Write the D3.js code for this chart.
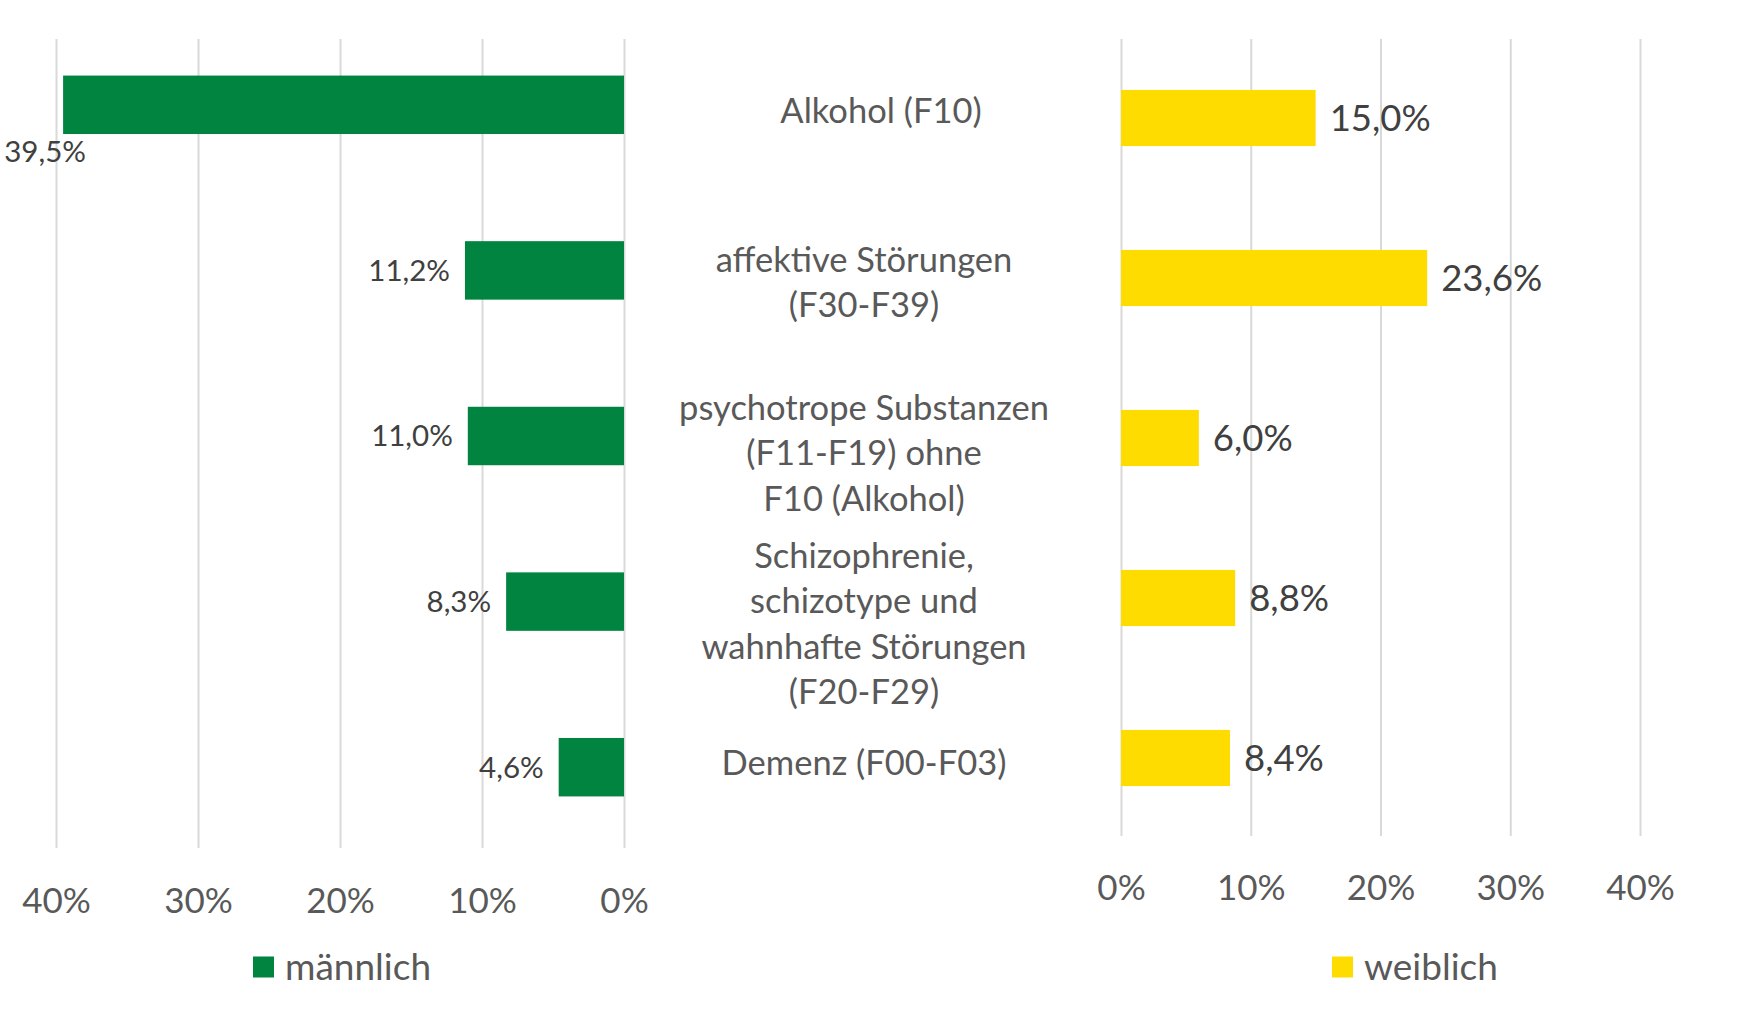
<!DOCTYPE html>
<html>
<head>
<meta charset="utf-8">
<script src="https://cdn.jsdelivr.net/npm/d3@7"></script>
<style>
    body { margin: 0; background: #fff; }
    svg text { font-family: Lato, "Open Sans", sans-serif; }
</style>
</head>
<body>
<div class="chart"></div>
<script>
// categories (one array of lines per row)
const categories = [
    ["Alkohol (F10)"],
    ["affektive Störungen", "(F30-F39)"],
    ["psychotrope Substanzen", "(F11-F19) ohne", "F10 (Alkohol)"],
    ["Schizophrenie,", "schizotype und", "wahnhafte Störungen", "(F20-F29)"],
    ["Demenz (F00-F03)"]
]

const maleValues = [39.5, 11.2, 11.0, 8.3, 4.6]
const femaleValues = [15.0, 23.6, 6.0, 8.8, 8.4]

const tickValues = [0, 10, 20, 30, 40]

const seriesNames = ["männlich", "weiblich"]

const green = "#00843F"
const yellow = "#FFDC00"
const gridCol = "#D9D9D9"
const textCol = "#595959"
const labelCol = "#404040"

const width = 1760
const height = 1028

const svg = d3.select('.chart')
    .append('svg')
    .attr('width', width)
    .attr('height', height)

const fmt = v => d3.format(".1f")(v).replace(".", ",") + "%"
const rows = d3.range(categories.length)

// scales
const xL = d3.scaleLinear().domain([0, 40]).range([624, 56])
const xR = d3.scaleLinear().domain([0, 40]).range([1121, 1640])

const yL = d3.scaleBand().domain(rows).range([22, 850]).paddingInner(0.647).paddingOuter(0.3235)
const yR = d3.scaleBand().domain(rows).range([38, 838]).paddingInner(0.649).paddingOuter(0.3245)

const gridTop = 39

// gridlines
function grid(x, bottom) {
    const g = svg.append('g')
        .attr('transform', 'translate(0,' + bottom + ')')
        .call(d3.axisBottom(x).tickValues(tickValues).tickSize(-(bottom - gridTop)).tickFormat(""))
    g.select('.domain').remove()
    g.selectAll('line').attr('stroke', gridCol).attr('stroke-width', 2)
}
grid(xL, 848)
grid(xR, 836)

// tick labels
function tickLabels(x, yPos) {
    const g = svg.append('g')
        .attr('transform', 'translate(0,' + yPos + ')')
        .call(d3.axisBottom(x).tickValues(tickValues).tickSize(0).tickFormat(d => d + "%"))
    g.select('.domain').remove()
    g.selectAll('text')
        .attr('y', 0)
        .attr('dy', '0.35em')
        .attr('fill', textCol)
        .style('font-size', '35px')
}
tickLabels(xL, 901)
tickLabels(xR, 888)

// male bars
svg.append('g')
    .selectAll('rect')
    .data(maleValues)
    .enter()
    .append('rect')
    .attr('x', d => xL(d))
    .attr('y', (d, i) => yL(i))
    .attr('width', d => xL(0) - xL(d))
    .attr('height', yL.bandwidth())
    .attr('fill', green)

// male labels - left of bar, or under it when there is no room
const maleLab = svg.append('g')
    .selectAll('text')
    .data(maleValues)
    .enter()
    .append('text')
    .attr('fill', labelCol)
    .style('font-size', '29.5px')
    .attr('dy', '0.35em')
    .text(d => fmt(d))

maleLab.each(function (d, i) {
    const t = d3.select(this)
    const w = this.getComputedTextLength()
    if (xL(d) - 15 - w < 0) {
        t.attr('text-anchor', 'middle')
            .attr('x', xL(d) - 18)
            .attr('y', yL(i) + yL.bandwidth() + 18)
    } else {
        t.attr('text-anchor', 'end')
            .attr('x', xL(d) - 15)
            .attr('y', yL(i) + yL.bandwidth() / 2)
    }
})

// female bars
svg.append('g')
    .selectAll('rect')
    .data(femaleValues)
    .enter()
    .append('rect')
    .attr('x', xR(0))
    .attr('y', (d, i) => yR(i))
    .attr('width', d => xR(d) - xR(0))
    .attr('height', yR.bandwidth())
    .attr('fill', yellow)

svg.append('g')
    .selectAll('text')
    .data(femaleValues)
    .enter()
    .append('text')
    .attr('x', d => xR(d) + 14)
    .attr('y', (d, i) => yR(i) + yR.bandwidth() / 2)
    .attr('dy', '0.35em')
    .attr('fill', labelCol)
    .style('font-size', '36.5px')
    .text(d => fmt(d))

// category labels in the middle
const lineH = 45.5
const catG = svg.append('g')
categories.forEach(function (lines, i) {
    const mid = (yL(i) + yL.bandwidth() / 2 + yR(i) + yR.bandwidth() / 2) / 2 + (lines.length - 1) * 8
    const cx = lines.length == 1 && i == 0 ? 881 : 864
    const t = catG.append('text')
        .attr('text-anchor', 'middle')
        .attr('fill', textCol)
        .style('font-size', '34.5px')
    lines.forEach(function (ln, j) {
        t.append('tspan')
            .attr('x', cx)
            .attr('y', mid + (j - (lines.length - 1) / 2) * lineH)
            .attr('dy', '0.35em')
            .text(ln)
    })
})

// legends
const legends = [
    { name: seriesNames[0], col: green, x: 253 },
    { name: seriesNames[1], col: yellow, x: 1332 }
]
legends.forEach(function (l) {
    const g = svg.append('g').attr('transform', 'translate(' + l.x + ',967)')
    g.append('rect')
        .attr('x', 0)
        .attr('y', -10.5)
        .attr('width', 21)
        .attr('height', 21)
        .attr('fill', l.col)
    g.append('text')
        .attr('x', 32)
        .attr('y', 0)
        .attr('dy', '0.35em')
        .attr('fill', textCol)
        .style('font-size', '37px')
        .text(l.name)
})
</script>
</body>
</html>
